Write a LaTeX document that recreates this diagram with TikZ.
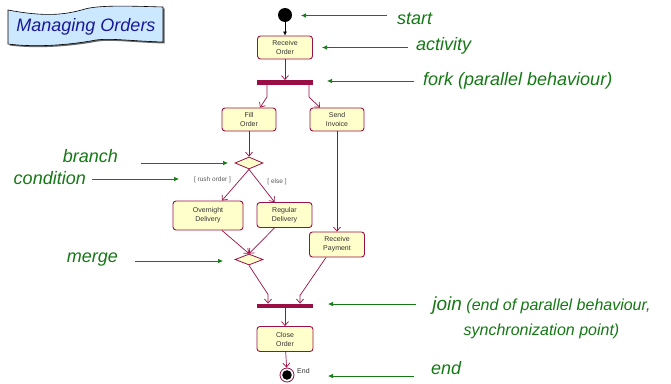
\documentclass[tikz,border=0pt]{standalone}
\usepackage{fontspec}
\setmainfont{Liberation Sans}
\usepackage{tikz}
\usetikzlibrary{arrows.meta}
\usetikzlibrary{shapes.geometric}
\usetikzlibrary{positioning}
\definecolor{mred}{rgb}{0.6, 0.06, 0.27}
\definecolor{myellow}{rgb}{1, 1, 0.8}
\definecolor{mgreen}{rgb}{0.08, 0.47, 0.08}
\definecolor{mblue}{rgb}{0.1, 0.1, 0.6}
\definecolor{mcyan}{rgb}{0.8, 0.91, 1}
\tikzset{act/.style = {draw = mred, fill = myellow, rounded corners = 3, line width = 0.9, inner sep = 1, align = center, text = black!80, font = \fontsize{7}{9}\selectfont}}
\tikzset{bar/.style = {fill = mred, inner sep = 0, minimum width = 56, minimum height = 4.5}}
\tikzset{dec/.style = {diamond, draw = mred, fill = myellow, line width = 0.8, inner sep = 0, minimum width = 28, minimum height = 12}}
\tikzset{flow/.style = {draw = mred, line width = 0.7, -{Straight Barb[length = 4pt, width = 7pt]}}}
\tikzset{guard/.style = {text = black!65, inner sep = 0, font = \fontsize{6.5}{8}\selectfont}}
\tikzset{note/.style = {text = mgreen, inner sep = 0, font = \fontsize{18}{22}\selectfont\itshape}}
\tikzset{pointer/.style = {draw = mgreen, line width = 0.7, -{Latex[length = 5pt, width = 4.5pt]}}}

\begin{document}
\begin{tikzpicture}[x = 1pt, y = -1pt]
    \useasboundingbox (0, 0) rectangle (671, 383);

    % title banner
    \fill [black!60] (9.5, 11.5) .. controls (46.5, 18.5) and (66.5, 16.5) .. (86.5, 10.5) .. controls (101.5, 6.5) and (131.5, 7.5) .. (164.5, 8.5) -- (164.5, 43.5) .. controls (131.5, 42.5) and (113.5, 39.5) .. (97.5, 41.5) .. controls (76.5, 45.5) and (41.5, 49.5) .. (9.5, 45.5) -- cycle;
    \draw [fill = mcyan, line width = 0.6] (8, 10) .. controls (45, 17) and (65, 15) .. (85, 9) .. controls (100, 5) and (130, 6) .. (163, 7) -- (163, 42) .. controls (130, 41) and (112, 38) .. (96, 40) .. controls (75, 44) and (40, 48) .. (8, 44) -- cycle;
    \node [text = mblue, font = \fontsize{18}{22}\selectfont\itshape] (title) at (86, 27) {Managing Orders};

    % activity graph
    \node [circle, fill = black, inner sep = 0, minimum size = 14] (start) at (285, 15) {};
    \node [act, minimum width = 55, minimum height = 23] (recv) at (285, 47.5) {Receive\\Order};
    \node [bar] (fork) at (285, 82.5) {};
    \node [act, minimum width = 54, minimum height = 23] (fill) at (249, 119.5) {Fill\\Order};
    \node [act, minimum width = 54, minimum height = 23] (send) at (337, 119.5) {Send\\Invoice};
    \node [dec] (branch) at (249, 163) {};
    \node [guard] (rush) at (212.5, 180) {[ rush order ]};
    \node [guard] (other) at (277, 182) {[ else ]};
    \node [act, minimum width = 70, minimum height = 29] (night) at (208, 215.5) {Overnight\\Delivery};
    \node [act, minimum width = 55, minimum height = 25] (regular) at (284.5, 215) {Regular\\Delivery};
    \node [act, minimum width = 55, minimum height = 25] (pay) at (337, 244.5) {Receive\\Payment};
    \node [dec, minimum height = 11] (merge) at (249, 259.5) {};
    \node [bar] (join) at (285, 306) {};
    \node [act, minimum width = 56, minimum height = 25] (close) at (285, 339) {Close\\Order};
    \node [circle, draw = mred, line width = 0.8, fill = white, inner sep = 0, minimum size = 14,
      path picture = {\fill [black] (path picture bounding box.center) circle [radius = 4.8];}] (end) at (287, 375) {};
    \node [anchor = west, inner sep = 0, text = black!80, font = \fontsize{7}{8}\selectfont] (endlbl) at (297, 371) {End};

    \draw [line width = 0.6, -{Latex[length = 4pt, width = 4pt]}] (start) -- (recv);
    \draw [flow] (recv) -- (fork);
    \draw [flow] ([xshift = -18]fork.south) -- ++(0, 12) -- ([xshift = 11]fill.north);
    \draw [flow] ([xshift = 24]fork.south) -- ++(0, 12) -- ([xshift = -17]send.north);
    \draw [flow] (fill) -- (branch);
    \draw [flow] (branch.south) -- ([xshift = 14]night.north);
    \draw [flow] (branch.south) -- ([xshift = -10]regular.north);
    \draw [flow] ([xshift = 14]night.south) -- (merge.north);
    \draw [flow] ([xshift = -10]regular.south) -- (merge.north);
    \draw [flow] (send) -- (pay);
    \draw [flow] (merge.south) -- ++(19, 29) -- ([xshift = -17]join.north);
    \draw [flow] ([xshift = -11]pay.south) -- ++(-26, 38) -- ([xshift = 15]join.north);
    \draw [flow] (join) -- (close);
    \draw [flow] (close) -- (end);

    % annotations
    \node [note, anchor = west] (startlbl) at (397, 19) {start};
    \node [note, anchor = west] (actlbl) at (416, 46) {activity};
    \node [note, anchor = west] (forklbl) at (423, 80.5) {fork (parallel behaviour)};
    \node [note, anchor = east] (branchlbl) at (118, 156) {branch};
    \node [note, anchor = east] (condlbl) at (86, 178.5) {condition};
    \node [note, anchor = east] (mergelbl) at (118, 260) {merge};
    \node [note, align = center, font = \fontsize{16}{25}\selectfont\itshape] (joinlbl) at (541.5, 317.5) {{\fontsize{19}{25}\selectfont join} (end of parallel behaviour,\\synchronization point)};
    \node [note, anchor = west] (endnote) at (431, 368) {end};

    \coordinate (startpt) at (301, 15.5);
    \coordinate (actpt) at (322, 47.5);
    \coordinate (forkpt) at (327, 81);
    \coordinate (branchpt) at (228, 163);
    \coordinate (condpt) at (179, 179);
    \coordinate (mergept) at (223, 261);
    \coordinate (joinpt) at (328, 304);
    \coordinate (endpt) at (328, 376);

    \draw [pointer, shorten <= 10] (startpt -| startlbl.west) -- (startpt);
    \draw [pointer, shorten <= 8] (actpt -| actlbl.west) -- (actpt);
    \draw [pointer, shorten <= 9] (forkpt -| forklbl.west) -- (forkpt);
    \draw [pointer, shorten <= 23] (branchpt -| branchlbl.east) -- (branchpt);
    \draw [pointer, shorten <= 6] (condpt -| condlbl.east) -- (condpt);
    \draw [pointer, shorten <= 17] (mergept -| mergelbl.east) -- (mergept);
    \draw [pointer, shorten <= 16] (joinpt -| joinlbl.west) -- (joinpt);
    \draw [pointer, shorten <= 17] (endpt -| endnote.west) -- (endpt);
\end{tikzpicture}
\end{document}
